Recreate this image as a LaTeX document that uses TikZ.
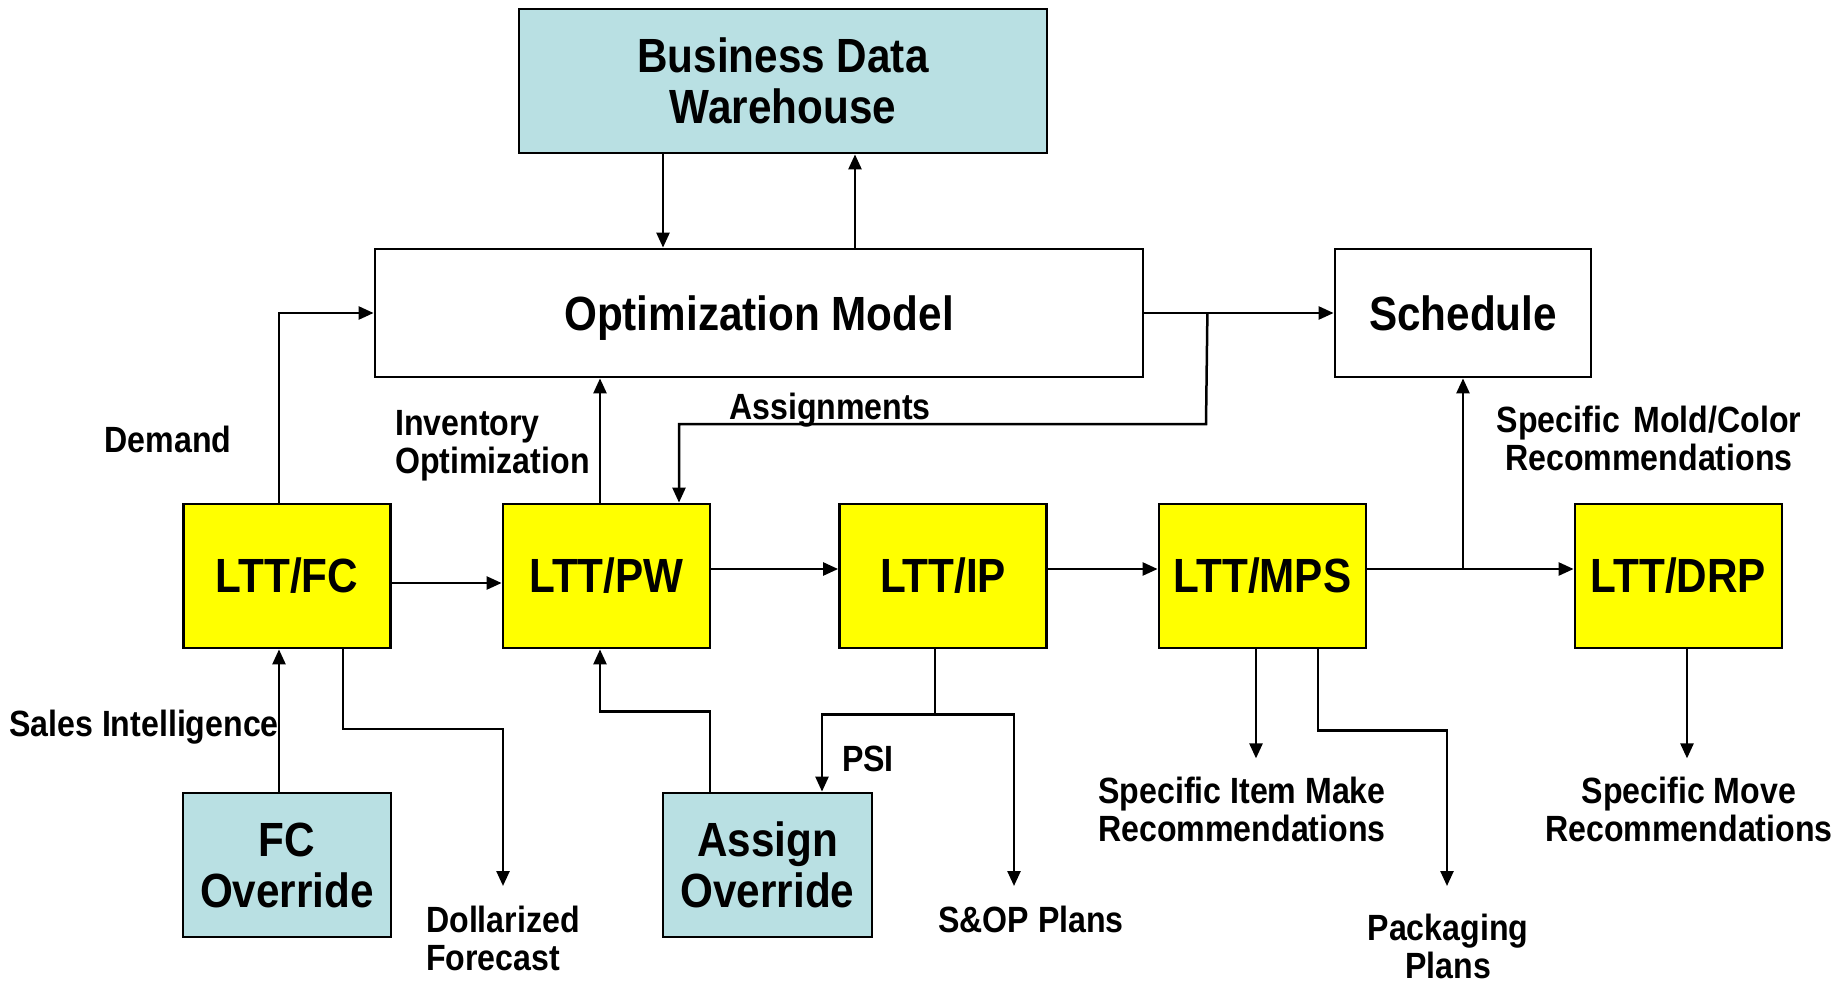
\documentclass[tikz,border=0pt]{standalone}
\usepackage{fontspec}
\usetikzlibrary{arrows.meta}
\newfontfamily\lab{Liberation Sans}[FakeStretch=0.88]
\definecolor{paleblue}{RGB}{185,224,227}
\definecolor{boxyellow}{RGB}{255,255,0}
\tikzset{
  box/.style={draw=black, line width=2.8pt, rectangle, inner sep=0pt, align=center,
    font=\lab\bfseries\fontsize{48}{51}\selectfont},
  bluebox/.style={box, fill=paleblue},
  ltt/.style={box, fill=boxyellow, minimum width=207pt, minimum height=144pt},
  plain/.style={box, fill=white},
  lbl/.style={inner sep=0pt, font=\lab\bfseries\fontsize{36.5}{38}\selectfont},
  arr/.style={line width=2.5pt, -{Triangle[length=15pt,width=13pt]}}
}
\begin{document}
\begin{tikzpicture}[x=1pt, y=-1pt]
\useasboundingbox (0,0) rectangle (1847,985);

% boxes
\node[bluebox, minimum width=528pt, minimum height=144pt] (bdw) at (783,81) {Business Data\\Warehouse};
\node[plain, minimum width=768pt, minimum height=128pt, text depth=0pt] (opt) at (759,313) {Optimization Model};
\node[plain, minimum width=256pt, minimum height=128pt] (sch) at (1463,313) {Schedule};
\node[ltt] (fc)  at (287,576)   {LTT/FC};
\node[ltt] (pw)  at (606.5,576) {LTT/PW};
\node[ltt] (ip)  at (943,576)   {LTT/IP};
\node[ltt] (mps) at (1262.5,576) {LTT/MPS};
\node[ltt] (drp) at (1678.5,576) {LTT/DRP};
\node[bluebox, minimum width=208pt, minimum height=144pt] (fco) at (287,865) {FC\\Override};
\node[bluebox, minimum width=209pt, minimum height=144pt] (aso) at (767.5,865) {Assign\\Override};

% labels
\node[lbl] (tdemand) at (168,439) {Demand};
\node[lbl, align=left, anchor=west] (tinv) at (395,446) {Inventory\\Optimization};
\node[lbl] (tassign) at (830,410) {Assignments};
\node[lbl, align=center] (tmold) at (1649,438) {Specific\hspace{0.12em} Mold/Color\\Recommendations};
\node[lbl] (tsales) at (144,727) {Sales Intelligence};
\node[lbl, align=left, anchor=west] (tdollar) at (426,938) {Dollarized\\Forecast};
\node[lbl] (tpsi) at (868,759) {PSI};
\node[lbl] (tsop) at (1031,919) {S\&OP Plans};
\node[lbl, align=center] (titem) at (1242,809) {Specific Item Make\\Recommendations};
\node[lbl, align=center] (tpack) at (1448,946) {Packaging\\Plans};
\node[lbl, align=center] (tmove) at (1689,809) {Specific Move\\Recommendations};

% connector points
\coordinate (d1) at ([xshift=-120pt]bdw.south);
\coordinate (u1) at ([xshift=96pt]opt.north);
\coordinate (f1) at ([xshift=-8pt]fc.north);
\coordinate (p1) at ([xshift=-6.5pt]pw.north);
\coordinate (a1) at ([xshift=63pt]opt.east);
\coordinate (asg) at (1206,424);
\coordinate (p2) at ([xshift=72.5pt]pw.north);
\coordinate (fr) at ([yshift=-7pt]fc.east);
\coordinate (pr) at ([yshift=7pt]pw.east);
\coordinate (ir) at ([yshift=7pt]ip.east);
\coordinate (mr) at ([yshift=7pt]mps.east);
\coordinate (o1) at ([xshift=-8pt]fco.north);
\coordinate (f2) at ([xshift=56pt]fc.south);
\coordinate (dolbend) at (503,729);
\coordinate (dolend) at (503,886);
\coordinate (a3) at ([xshift=-57.5pt]aso.north);
\coordinate (p3) at ([xshift=-6.5pt]pw.south);
\coordinate (i1) at ([xshift=-8pt]ip.south);
\coordinate (s1) at ([xshift=54.5pt]aso.north);
\coordinate (sopend) at (1014,886);
\coordinate (m2) at ([xshift=-6.5pt]mps.south);
\coordinate (m3) at ([xshift=55.5pt]mps.south);
\coordinate (pkgend) at (1447,886);
\coordinate (d2) at ([xshift=8.5pt]drp.south);

% connectors
\draw[arr] (d1) -- (d1 |- opt.north);
\draw[arr] (u1) -- (u1 |- bdw.south);
\draw[arr] (f1) |- (opt.west);
\draw[arr] (p1) -- (p1 |- opt.south);
\draw[arr] (opt.east) -- (sch.west);
\draw[arr] (a1) -- (asg) -- (asg -| p2) -- (p2);
\draw[arr] (fr) -- (fr -| pw.west);
\draw[arr] (pr) -- (pr -| ip.west);
\draw[arr] (ir) -- (ir -| mps.west);
\draw[arr] (mr) -- (mr -| drp.west);
\draw[arr] (mr -| sch.south) -- (sch.south);
\draw[arr] (o1) -- (o1 |- fc.south);
\draw[arr] (f2) |- (dolbend) -- (dolend);
\draw[arr] (a3) -- ++(0,-80) -| (p3);
\draw[arr] (i1) -- ++(0,65) -| (s1);
\draw[arr] (i1) -- ++(0,65) -| (sopend);
\draw[arr] (m2) -- ++(0,109);
\draw[arr] (m3) -- ++(0,81) -| (pkgend);
\draw[arr] (d2) -- ++(0,109);
\end{tikzpicture}
\end{document}
